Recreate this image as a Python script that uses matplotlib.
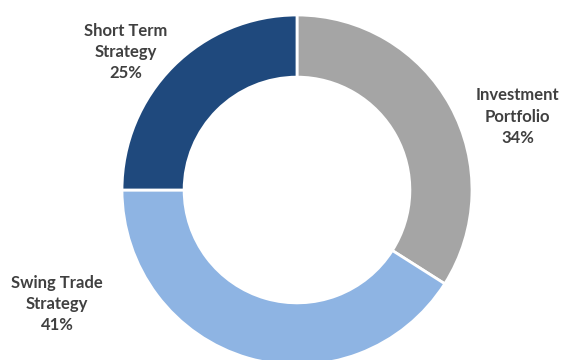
import matplotlib
matplotlib.use("Agg")
import matplotlib.pyplot as plt

labels = ["Investment\nPortfolio", "Swing Trade\nStrategy", "Short Term\nStrategy"]
shares = [34, 41, 25]
colors = ["#A5A5A5", "#8EB4E3", "#1F497D"]

# label centres, in units of the outer radius
label_pos = [(1.26, 0.42), (-1.37, -0.65), (-0.98, 0.79)]

fig = plt.figure(figsize=(5.69, 3.6), dpi=100)
ax = fig.add_axes([122 / 569, -5 / 360, 350 / 569, 350 / 360])

ax.pie(shares, colors=colors, startangle=90, counterclock=False,
       radius=1.0, wedgeprops=dict(width=0.355, edgecolor="white", linewidth=2))
ax.set_xlim(-1, 1)
ax.set_ylim(-1, 1)
ax.axis("off")

for lab, val, (x, y) in zip(labels, shares, label_pos):
    ax.text(x, y, f"{lab}\n{val}%", ha="center", va="center",
            fontsize=12, fontweight="bold", family=["Lato", "DejaVu Sans"],
            color="#404040", linespacing=1.4, clip_on=False)

fig.savefig("out.png", dpi=100)
